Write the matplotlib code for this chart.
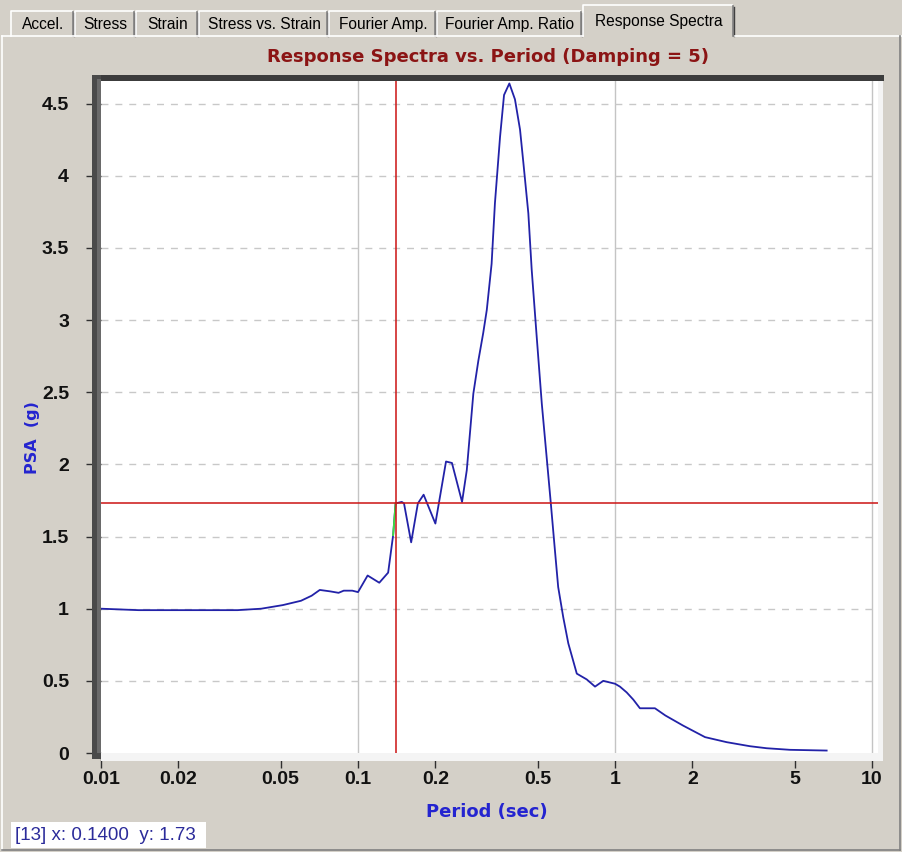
import numpy as np
import matplotlib
matplotlib.use("Agg")
import matplotlib.pyplot as plt
from matplotlib.patches import Rectangle

# Response spectrum (period in sec, PSA in g)
period = [0.010, 0.014, 0.020, 0.030, 0.034, 0.042, 0.051, 0.060, 0.066, 0.071,
          0.078, 0.084, 0.088, 0.095, 0.100, 0.109, 0.121, 0.131, 0.137, 0.140,
          0.148, 0.151, 0.161, 0.171, 0.180, 0.200, 0.220, 0.232, 0.254, 0.265,
          0.281, 0.294, 0.307, 0.317, 0.331, 0.341, 0.357, 0.370, 0.388, 0.408,
          0.427, 0.440, 0.460, 0.474, 0.496, 0.519, 0.542, 0.562, 0.584, 0.601,
          0.629, 0.658, 0.710, 0.776, 0.836, 0.900, 1.000, 1.045, 1.110, 1.178,
          1.250, 1.430, 1.570, 1.840, 2.240, 2.720, 3.350, 3.890, 4.800, 6.660]
psa = [1.00, 0.99, 0.99, 0.99, 0.99, 1.00, 1.025, 1.055, 1.09, 1.13,
       1.12, 1.11, 1.125, 1.125, 1.115, 1.23, 1.18, 1.25, 1.51, 1.73,
       1.74, 1.73, 1.46, 1.73, 1.79, 1.59, 2.02, 2.01, 1.74, 1.96,
       2.49, 2.72, 2.91, 3.07, 3.39, 3.81, 4.27, 4.56, 4.64, 4.53,
       4.32, 4.09, 3.74, 3.35, 2.88, 2.42, 2.05, 1.74, 1.40, 1.15,
       0.94, 0.76, 0.55, 0.51, 0.46, 0.50, 0.48, 0.46, 0.42, 0.37,
       0.31, 0.31, 0.26, 0.19, 0.11, 0.075, 0.047, 0.033, 0.022, 0.017]

x_ticks = [0.01, 0.02, 0.05, 0.1, 0.2, 0.5, 1, 2, 5, 10]
x_tick_labels = ["0.01", "0.02", "0.05", "0.1", "0.2", "0.5", "1", "2", "5", "10"]
y_ticks = [0, 0.5, 1, 1.5, 2, 2.5, 3, 3.5, 4, 4.5]
y_tick_labels = ["0", "0.5", "1", "1.5", "2", "2.5", "3", "3.5", "4", "4.5"]

tabs = ["Accel.", "Stress", "Strain", "Stress vs. Strain", "Fourier Amp.",
        "Fourier Amp. Ratio", "Response Spectra"]
tab_edges = [11, 75, 136, 199, 329, 437, 583, 735]

cursor_index = 13
cursor_period = 0.14
cursor_psa = 1.73

W, H = 902, 852
PANEL = "#D4D0C8"
NARROW = "Liberation Sans"
WIDE = "DejaVu Sans"

fig = plt.figure(figsize=(W / 100, H / 100), dpi=100, facecolor=PANEL)

# background layer in pixel coordinates
bg = fig.add_axes([0, 0, 1, 1], zorder=-1)
bg.set_xlim(0, W)
bg.set_ylim(H, 0)
bg.axis("off")

# tab strip
for i, name in enumerate(tabs):
    x0, x1 = tab_edges[i], tab_edges[i + 1]
    sel = (i == len(tabs) - 1)
    top = 5 if sel else 11
    bg.add_patch(Rectangle((x0, top), x1 - x0 - 1, 36 - top, facecolor=PANEL,
                           edgecolor="none"))
    bg.plot([x0, x0, x1 - 3], [36, top, top], color="white", lw=1.2)
    bg.plot([x1 - 2, x1 - 2], [top + 1, 36], color="#808080", lw=1.2)
    bg.plot([x1 - 1, x1 - 1], [top + 2, 36], color="#404040", lw=1.0)
    bg.text((x0 + x1) / 2, (top + 36) / 2 + 1, name, ha="center", va="center",
            fontsize=11.2, family=NARROW, color="black")
bg.plot([2, tab_edges[-2]], [36, 36], color="white", lw=1.2)
bg.plot([tab_edges[-1], W], [36, 36], color="white", lw=1.2)
bg.plot([2, 2], [36, 850], color="white", lw=1.2)
bg.plot([2, W - 2], [850, 850], color="#808080", lw=1.2)
bg.plot([W - 2, W - 2], [36, 850], color="#808080", lw=1.2)

# status box with the cursor read-out
bg.add_patch(Rectangle((11, 822), 195, 26, facecolor="white", edgecolor="none"))
bg.text(15, 835.5, f"[{cursor_index}] x: {cursor_period:.4f}  y: {cursor_psa:.2f}",
        ha="left", va="center", fontsize=13.5, family=NARROW, color="#2B2B9A")

# main plot
L, R, T, B = 101, 878, 81, 753
ax = fig.add_axes([L / W, 1 - B / H, (R - L) / W, (B - T) / H])
ax.set_facecolor("white")
ax.set_xscale("log")
ax.set_xlim(0.01, 10.55)
ax.set_ylim(0, 4.657)

for gx in [0.1, 1, 10]:
    ax.axvline(gx, color="#C4C4C4", lw=1.0, zorder=1)
for gy in y_ticks[1:]:
    ax.axhline(gy, color="#C8C8C8", lw=1.0, dashes=(5, 5), zorder=1)

ax.plot(period, psa, color="#2222A8", lw=1.3, zorder=3)
k = period.index(cursor_period)
ax.plot(period[k - 1:k + 1], psa[k - 1:k + 1], color="#40E040", lw=1.3, zorder=4)
ax.axvline(cursor_period, color="#CC1414", lw=1.1, zorder=5)
ax.axhline(cursor_psa, color="#CC1414", lw=1.1, zorder=5)

for s in ax.spines.values():
    s.set_visible(False)
ax.set_xticks(x_ticks)
ax.set_xticklabels(x_tick_labels)
ax.xaxis.set_minor_locator(matplotlib.ticker.NullLocator())
ax.set_yticks(y_ticks)
ax.set_yticklabels(y_tick_labels)
ax.tick_params(axis="both", direction="out", length=11, width=1, color="#303030",
               labelsize=14)
ax.tick_params(axis="x", pad=2)
ax.tick_params(axis="y", pad=12)
for lab in ax.get_xticklabels() + ax.get_yticklabels():
    lab.set_fontweight("bold")
    lab.set_family(NARROW)
    lab.set_color("#111111")

# 3D inset border around the plot area
fg = fig.add_axes([0, 0, 1, 1], zorder=5)
fg.set_xlim(0, W)
fg.set_ylim(H, 0)
fg.axis("off")
fg.patch.set_visible(False)
fg.add_patch(Rectangle((92, 75), R - 92 + 6, T - 75, facecolor="#3C3C3C",
                       edgecolor="none"))
fg.add_patch(Rectangle((92, 75), L - 92, B - 75 + 6, facecolor="#4A4A4A",
                       edgecolor="none"))
fg.add_patch(Rectangle((97, 79), L - 97, B - 79, facecolor="#6A6A6A",
                       edgecolor="none"))
fg.add_patch(Rectangle((L, B), R - L + 5, 8, facecolor="#F4F4F4", edgecolor="none"))
fg.add_patch(Rectangle((R, T), 5, B - T + 8, facecolor="#F4F4F4", edgecolor="none"))

fig.text(488 / W, 1 - 57 / H, "Response Spectra vs. Period (Damping = 5)",
         ha="center", va="center", fontsize=13, fontweight="bold", family=WIDE,
         color="#8B1414")
fig.text(487 / W, 1 - 812 / H, "Period (sec)", ha="center", va="center",
         fontsize=13, fontweight="bold", family=WIDE, color="#2424D0")
fig.text(33 / W, 1 - 438 / H, "PSA  (g)", ha="center", va="center", rotation=90,
         fontsize=11.5, fontweight="bold", family=WIDE, color="#2424D0")

fig.savefig("out.png", dpi=100, facecolor=PANEL)
